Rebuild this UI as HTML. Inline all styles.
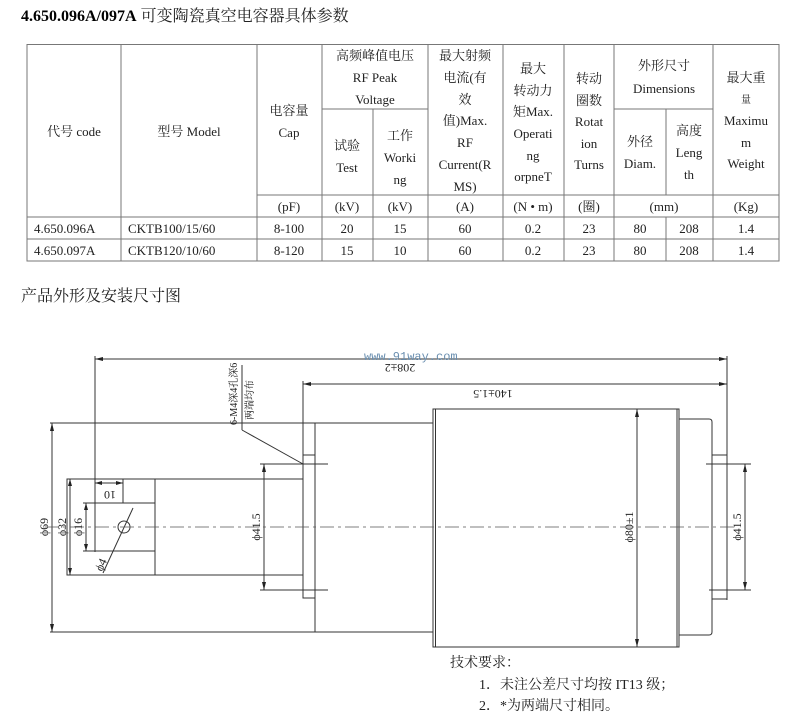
<!DOCTYPE html>
<html><head><meta charset="utf-8"><style>
html,body{margin:0;padding:0;background:#fff;width:800px;height:716px;overflow:hidden}
svg{display:block}
text{font-family:"Liberation Serif","Noto Serif CJK SC","Noto Sans CJK SC",serif;fill:#222}
.t{font-size:13px;text-anchor:middle}
.d{font-family:"Liberation Sans Narrow","Liberation Sans","Noto Sans CJK SC",sans-serif;font-size:12px;fill:#111}
</style></head><body>
<svg width="800" height="716" viewBox="0 0 800 716" xmlns="http://www.w3.org/2000/svg">
<text x="21" y="21" style="font-size:16px"><tspan font-weight="bold" fill="#000">4.650.096A/097A</tspan> 可变陶瓷真空电容器具体参数</text>

<!-- table -->
<g stroke="#777" stroke-width="1" fill="none">
<rect x="27" y="44.5" width="752" height="216.5"/>
<line x1="121" y1="44" x2="121" y2="261"/>
<line x1="257" y1="44" x2="257" y2="261"/>
<line x1="322" y1="44" x2="322" y2="261"/>
<line x1="373" y1="109" x2="373" y2="261"/>
<line x1="428" y1="44" x2="428" y2="261"/>
<line x1="503" y1="44" x2="503" y2="261"/>
<line x1="564" y1="44" x2="564" y2="261"/>
<line x1="614" y1="44" x2="614" y2="261"/>
<line x1="666" y1="109" x2="666" y2="195"/>
<line x1="666" y1="217" x2="666" y2="261"/>
<line x1="713" y1="44" x2="713" y2="261"/>
<line x1="322" y1="109" x2="428" y2="109"/>
<line x1="614" y1="109" x2="713" y2="109"/>
<line x1="257" y1="195" x2="779" y2="195"/>
<line x1="27" y1="217" x2="779" y2="217"/>
<line x1="27" y1="239" x2="779" y2="239"/>
</g>
<g class="t">
<text x="74" y="136">代号 code</text>
<text x="189" y="136">型号 Model</text>
<text x="289" y="115">电容量</text><text x="289" y="137">Cap</text>
<text x="375" y="60">高频峰值电压</text><text x="375" y="82">RF Peak</text><text x="375" y="104">Voltage</text>
<text x="347" y="150">试验</text><text x="347" y="172">Test</text>
<text x="400" y="140">工作</text><text x="400" y="162">Worki</text><text x="400" y="184">ng</text>
<text x="465" y="60">最大射频</text><text x="465" y="82">电流(有</text><text x="465" y="104">效</text><text x="465" y="125">值)Max.</text><text x="465" y="147">RF</text><text x="465" y="169">Current(R</text><text x="465" y="191">MS)</text>
<text x="533" y="73">最大</text><text x="533" y="95">转动力</text><text x="533" y="116">矩Max.</text><text x="533" y="138">Operati</text><text x="533" y="160">ng</text><text x="533" y="181">orpneT</text>
<text x="589" y="83">转动</text><text x="589" y="105">圈数</text><text x="589" y="126">Rotat</text><text x="589" y="148">ion</text><text x="589" y="169">Turns</text>
<text x="664" y="70">外形尺寸</text><text x="664" y="93">Dimensions</text>
<text x="640" y="146">外径</text><text x="640" y="168">Diam.</text>
<text x="689" y="135">高度</text><text x="689" y="157">Leng</text><text x="689" y="179">th</text>
<text x="746" y="82">最大重</text><text x="746" y="103" style="font-size:10px">量</text><text x="746" y="125">Maximu</text><text x="746" y="147">m</text><text x="746" y="168">Weight</text>
<text x="289" y="211">(pF)</text><text x="347" y="211">(kV)</text><text x="400" y="211">(kV)</text><text x="465" y="211">(A)</text><text x="533" y="211">(N • m)</text><text x="589" y="211">(圈)</text><text x="664" y="211">(mm)</text><text x="746" y="211">(Kg)</text>
<text x="289" y="233">8-100</text><text x="347" y="233">20</text><text x="400" y="233">15</text><text x="465" y="233">60</text><text x="533" y="233">0.2</text><text x="589" y="233">23</text><text x="640" y="233">80</text><text x="689" y="233">208</text><text x="746" y="233">1.4</text>
<text x="289" y="255">8-120</text><text x="347" y="255">15</text><text x="400" y="255">10</text><text x="465" y="255">60</text><text x="533" y="255">0.2</text><text x="589" y="255">23</text><text x="640" y="255">80</text><text x="689" y="255">208</text><text x="746" y="255">1.4</text>
</g>
<text x="34" y="233" style="font-size:13px">4.650.096A</text><text x="128" y="233" style="font-size:13px">CKTB100/15/60</text>
<text x="34" y="255" style="font-size:13px">4.650.097A</text><text x="128" y="255" style="font-size:13px">CKTB120/10/60</text>

<text x="21" y="301" style="font-size:16px">产品外形及安装尺寸图</text>

<!-- drawing -->
<g stroke="#333" stroke-width="1" fill="none">
<line x1="95" y1="359" x2="727" y2="359"/>
<line x1="95" y1="356" x2="95" y2="552"/>
<line x1="727" y1="356" x2="727" y2="600"/>
<line x1="303" y1="384" x2="727" y2="384"/>
<line x1="303" y1="381" x2="303" y2="598"/>
<line x1="50" y1="423" x2="433" y2="423"/>
<line x1="50" y1="632" x2="433" y2="632"/>
<line x1="315" y1="423" x2="315" y2="632"/>
<rect x="303" y="455" width="12" height="143"/>
<rect x="67" y="479" width="88" height="96"/>
<line x1="155" y1="479" x2="303" y2="479"/>
<line x1="155" y1="575" x2="303" y2="575"/>
<line x1="83" y1="503" x2="155" y2="503"/>
<line x1="83" y1="551" x2="155" y2="551"/>
<line x1="123" y1="479" x2="123" y2="503"/>
<circle cx="124" cy="527" r="6"/>
<line x1="103" y1="573" x2="133" y2="508"/>
<line x1="52" y1="423" x2="52" y2="632"/>
<line x1="70" y1="479" x2="70" y2="575"/>
<line x1="86" y1="503" x2="86" y2="551"/>
<line x1="95" y1="483" x2="123" y2="483"/>
<line x1="264" y1="464" x2="264" y2="590"/>
<line x1="260" y1="464" x2="328" y2="464"/>
<line x1="260" y1="590" x2="328" y2="590"/>
<line x1="242" y1="365" x2="242" y2="430"/>
<line x1="242" y1="430" x2="303" y2="464"/>
<rect x="433" y="409" width="246" height="238"/>
<line x1="435.5" y1="409" x2="435.5" y2="647"/>
<line x1="677" y1="409" x2="677" y2="647"/>
<path d="M679 419 H709 Q712 419 712 422 V632 Q712 635 709 635 H679"/>
<rect x="712" y="455" width="15" height="144"/>
<line x1="637" y1="409" x2="637" y2="647"/>
<line x1="706" y1="464" x2="751" y2="464"/>
<line x1="709" y1="590" x2="751" y2="590"/>
<line x1="745" y1="464" x2="745" y2="590"/>
</g>
<line x1="45" y1="527" x2="735" y2="527" stroke="#555" stroke-width="0.8" stroke-dasharray="14,4,3,4"/>
<g fill="#222">
<path d="M95 359 l8 -2 v4z M727 359 l-8 -2 v4z M303 384 l8 -2 v4z M727 384 l-8 -2 v4z"/>
<path d="M52 423 l-2 8 h4z M52 632 l-2 -8 h4z M70 479 l-2 7 h4z M70 575 l-2 -7 h4z M86 503 l-2 7 h4z M86 551 l-2 -7 h4z"/>
<path d="M95 483 l7 -2 v4z M123 483 l-7 -2 v4z M264 464 l-2 8 h4z M264 590 l-2 -8 h4z M637 409 l-2 8 h4z M637 647 l-2 -8 h4z M745 464 l-2 8 h4z M745 590 l-2 -8 h4z"/>
</g>
<g class="d">
<text transform="translate(400,364) rotate(180)" text-anchor="middle">208±2</text>
<text transform="translate(493,390) rotate(180)" text-anchor="middle">140±1.5</text>
<text transform="translate(110,491) rotate(180)" text-anchor="middle">10</text>
<text transform="translate(48,527) rotate(-90)" text-anchor="middle">ϕ69</text>
<text transform="translate(66,527) rotate(-90)" text-anchor="middle">ϕ32</text>
<text transform="translate(82,527) rotate(-90)" text-anchor="middle">ϕ16</text>
<text transform="translate(260,527) rotate(-90)" text-anchor="middle">ϕ41.5</text>
<text transform="translate(633,527) rotate(-90)" text-anchor="middle">ϕ80±1</text>
<text transform="translate(741,527) rotate(-90)" text-anchor="middle">ϕ41.5</text>
<text transform="translate(102,572) rotate(-65)">ϕ4</text>
<text transform="translate(237,425) rotate(-90)" style="font-size:10px">6-M4深4孔深6</text>
<text transform="translate(253,420) rotate(-90)" style="font-size:10px">两端均布</text>
</g>
<text x="364" y="360" style="font-family:'Liberation Mono',monospace;font-size:12px;fill:#6a8fb0">www.91way.com</text>

<text x="450" y="667" style="font-size:14px">技术要求：</text>
<text x="479" y="689" style="font-size:14px">1．未注公差尺寸均按 IT13 级；</text>
<text x="479" y="710" style="font-size:14px">2．*为两端尺寸相同。</text>
</svg>
</body></html>
